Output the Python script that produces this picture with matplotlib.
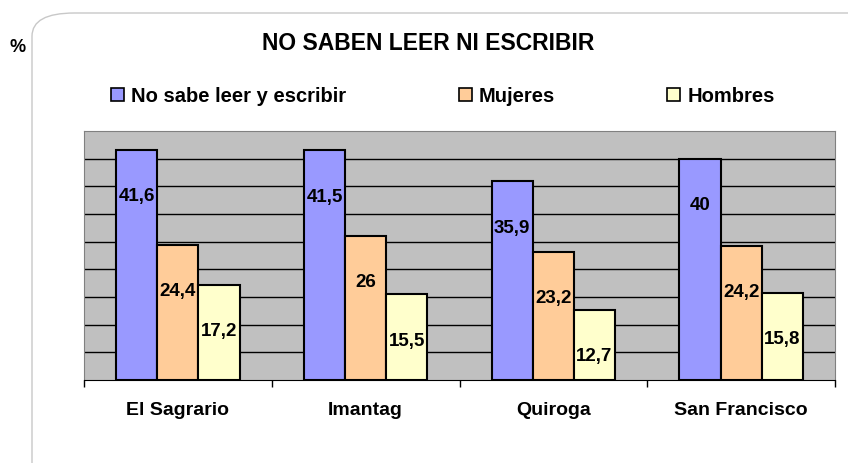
import matplotlib.pyplot as plt
import numpy as np
from matplotlib.patches import FancyBboxPatch, Patch

plt.rcParams['font.family'] = ['Liberation Sans', 'DejaVu Sans']
plt.rcParams['font.weight'] = 'bold'

zonas = ["El Sagrario", "Imantag", "Quiroga", "San Francisco"]
series = ["No sabe leer y escribir", "Mujeres", "Hombres"]
total = [41.6, 41.5, 35.9, 40]
mujeres = [24.4, 26, 23.2, 24.2]
hombres = [17.2, 15.5, 12.7, 15.8]
etiquetas = [["41,6", "41,5", "35,9", "40"],
             ["24,4", "26", "23,2", "24,2"],
             ["17,2", "15,5", "12,7", "15,8"]]
colores = ["#9999FF", "#FFCC99", "#FFFFCC"]

fig = plt.figure(figsize=(8.48, 4.64), dpi=100)

# rounded chart frame, runs off the right and bottom edges
marco = FancyBboxPatch((32 / 848, -0.2), 1.2, 1.2 - 14 / 464,
                       boxstyle="round,pad=0,rounding_size=0.05",
                       transform=fig.transFigure, facecolor="white",
                       edgecolor="#C8C8C8", linewidth=1.0, zorder=-5)
fig.patches.append(marco)

ax = fig.add_axes([84 / 848, 1 - 381 / 464, (835 - 84) / 848, (381 - 132) / 464])
ax.set_facecolor("#C0C0C0")

x = np.arange(len(zonas))
w = 0.219
for i, vals in enumerate([total, mujeres, hombres]):
    bars = ax.bar(x + (i - 1) * w, vals, w, color=colores[i],
                  edgecolor="black", linewidth=1.5, zorder=3, label=series[i])
    for b, t in zip(bars, etiquetas[i]):
        ax.annotate(t, (b.get_x() + b.get_width() / 2, b.get_height()),
                    xytext=(0, -33), textcoords="offset points",
                    ha="center", va="center", fontsize=13.5, fontweight="bold")

ax.set_ylim(0, 45)
ax.set_xlim(-0.5, 3.5)
ax.set_yticks(np.arange(5, 45, 5))
ax.yaxis.grid(True, color="black", linewidth=1.0, zorder=0)
ax.tick_params(axis="y", left=False, labelleft=False)
ax.set_xticks(x)
ax.set_xticklabels(zonas, fontsize=14, fontweight="bold")
ax.set_xticks(np.arange(-0.5, 4, 1), minor=True)
ax.tick_params(axis="x", which="major", length=0, pad=15)
ax.tick_params(axis="x", which="minor", length=5, width=1, color="black")
for s in ["top", "left", "right"]:
    ax.spines[s].set_color("#808080")
ax.spines["bottom"].set_color("black")

handles = [Patch(facecolor=c, edgecolor="black", linewidth=1.2) for c in colores]
leg = fig.legend(handles, series, loc="center left", ncol=3,
                 bbox_to_anchor=(93 / 848, 1 - 97 / 464, 700 / 848, 0.0),
                 mode="expand", frameon=False, fontsize=14.5,
                 handlelength=0.65, handleheight=0.65, handletextpad=0.35)

fig.text(428 / 848, 1 - 44 / 464, "NO SABEN LEER NI ESCRIBIR", ha="center",
         va="center", fontsize=16.5, fontweight="bold")
fig.text(18 / 848, 1 - 48 / 464, "%", ha="center", va="center",
         fontsize=13, fontweight="bold")

fig.savefig("out.png", dpi=100)
